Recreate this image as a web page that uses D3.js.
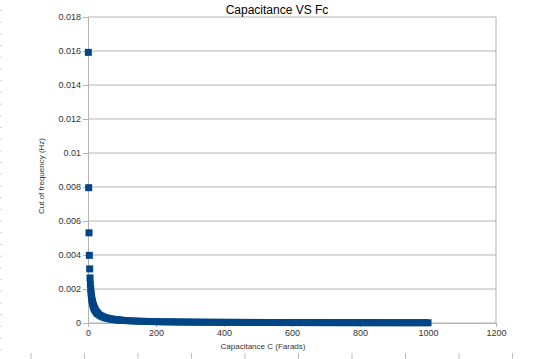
<!DOCTYPE html>
<html>
<head>
<meta charset="utf-8">
<script src="https://cdn.jsdelivr.net/npm/d3@7"></script>
<style>
  body { margin: 0; background: #fff; }
  text { font-family: "Liberation Sans", Arial, sans-serif; }
</style>
</head>
<body>
<div id="chart"></div>
<script>
// values
const capacitance = [
  1, 2, 3, 4, 5, 6, 7, 8, 9, 10, 11, 12, 13, 14, 15, 16, 17, 18, 19, 20,
  22, 24, 26, 28, 30, 35, 40, 45, 50, 55, 60, 65, 70, 75, 80, 85, 90, 95,
  100, 110, 120, 130, 140, 150, 160, 170, 180, 190,
  200, 210, 220, 230, 240, 250, 260, 270, 280, 290,
  300, 310, 320, 330, 340, 350, 360, 370, 380, 390,
  400, 410, 420, 430, 440, 450, 460, 470, 480, 490,
  500, 510, 520, 530, 540, 550, 560, 570, 580, 590,
  600, 610, 620, 630, 640, 650, 660, 670, 680, 690,
  700, 710, 720, 730, 740, 750, 760, 770, 780, 790,
  800, 810, 820, 830, 840, 850, 860, 870, 880, 890,
  900, 910, 920, 930, 940, 950, 960, 970, 980, 990, 1000
];
const cutoff = [
  0.01592, 0.00796, 0.005305, 0.003979, 0.003183, 0.002653, 0.002274, 0.001989, 0.001768, 0.001592,
  0.001447, 0.001326, 0.001224, 0.001137, 0.001061, 0.000995, 0.000936, 0.000884, 0.000838, 0.000796,
  0.000723, 0.000663, 0.000612, 0.000568, 0.000531, 0.000455, 0.000398, 0.000354, 0.000318, 0.000289,
  0.000265, 0.000245, 0.000227, 0.000212, 0.000199, 0.000187, 0.000177, 0.000168,
  0.000159, 0.0001447, 0.000133, 0.0001224, 0.000114, 0.0001061, 0.0000995, 0.0000936, 0.0000884, 0.0000838,
  0.0000796, 0.0000758, 0.0000723, 0.0000692, 0.0000663, 0.0000637, 0.0000612, 0.0000589, 0.0000568, 0.0000549,
  0.0000531, 0.0000513, 0.0000497, 0.0000482, 0.0000468, 0.0000455, 0.0000442, 0.000043, 0.0000419, 0.0000408,
  0.0000398, 0.0000388, 0.0000379, 0.000037, 0.0000362, 0.0000354, 0.0000346, 0.0000339, 0.0000332, 0.0000325,
  0.0000318, 0.0000312, 0.0000306, 0.00003, 0.0000295, 0.0000289, 0.0000284, 0.0000279, 0.0000274, 0.000027,
  0.0000265, 0.0000261, 0.0000257, 0.0000253, 0.0000249, 0.0000245, 0.0000241, 0.0000238, 0.0000234, 0.0000231,
  0.0000227, 0.0000224, 0.0000221, 0.0000218, 0.0000215, 0.0000212, 0.0000209, 0.0000207, 0.0000204, 0.0000201,
  0.0000199, 0.0000196, 0.0000194, 0.0000192, 0.0000189, 0.0000187, 0.0000185, 0.0000183, 0.0000181, 0.0000179,
  0.0000177, 0.0000175, 0.0000173, 0.0000171, 0.0000169, 0.0000168, 0.0000166, 0.0000164, 0.0000162, 0.0000161, 0.0000159
];
const xTicks = [0, 200, 400, 600, 800, 1000, 1200];
const yTicks = [0, 0.002, 0.004, 0.006, 0.008, 0.01, 0.012, 0.014, 0.016, 0.018];

const width = 560, height = 359;
const margin = { top: 17, right: 64, bottom: 36, left: 88 };

const svg = d3.select('#chart')
              .append('svg')
              .attr('width', width)
              .attr('height', height);

const x = d3.scaleLinear()
            .domain([0, 1200])
            .range([margin.left, width - margin.right]);

const y = d3.scaleLinear()
            .domain([0, 0.018])
            .range([height - margin.bottom, margin.top]);

// faint ruler marks around the screenshot edge
const leftDots = d3.range(10, height, 11.7);
svg.append('g').selectAll('rect')
   .data(leftDots)
   .enter()
   .append('rect')
   .attr('x', 0).attr('y', d => d)
   .attr('width', 1.5).attr('height', 1)
   .attr('fill', '#c8c8c8');

const bottomMarks = d3.range(31, width, 53.5);
svg.append('g').selectAll('line')
   .data(bottomMarks)
   .enter()
   .append('line')
   .attr('x1', d => d).attr('x2', d => d)
   .attr('y1', 353).attr('y2', 359)
   .attr('stroke', '#bdbdbd');

// horizontal grid
svg.append('g')
   .selectAll('line')
   .data(yTicks)
   .enter()
   .append('line')
   .attr('x1', x(0)).attr('x2', x(1200))
   .attr('y1', d => y(d)).attr('y2', d => y(d))
   .attr('stroke', '#b3b3b3')
   .attr('stroke-width', 1);

// right border
svg.append('line')
   .attr('x1', x(1200)).attr('x2', x(1200))
   .attr('y1', y(0.018)).attr('y2', y(0))
   .attr('stroke', '#b3b3b3');

const yAxis = svg.append('g')
                 .attr('transform', `translate(${x(0)},0)`)
                 .call(d3.axisLeft(y).tickValues(yTicks).tickSize(5).tickPadding(2)
                         .tickFormat(d => d3.format('~g')(+d.toFixed(3))));

const xAxis = svg.append('g')
                 .attr('transform', `translate(0,${y(0)})`)
                 .call(d3.axisBottom(x).tickValues(xTicks).tickSize(4).tickPadding(3)
                         .tickFormat(d3.format('d')));

[xAxis, yAxis].forEach(a => {
  a.select('.domain').attr('stroke', '#b3b3b3');
  a.selectAll('.tick line').attr('stroke', '#b3b3b3');
  a.selectAll('.tick text')
   .attr('fill', '#333')
   .style('font-family', '"Liberation Sans", Arial, sans-serif')
   .style('font-size', '9px');
});

// markers
const points = capacitance.map((c, i) => ({ c, f: cutoff[i] }));
const size = 7;
svg.append('g')
   .selectAll('rect')
   .data(points)
   .enter()
   .append('rect')
   .attr('x', d => x(d.c) - size / 2)
   .attr('y', d => y(d.f) - size / 2)
   .attr('width', size)
   .attr('height', size)
   .attr('fill', '#004586');

svg.append('text')
   .attr('x', 277)
   .attr('y', 14)
   .attr('text-anchor', 'middle')
   .style('font-size', '12px')
   .attr('fill', '#000')
   .text('Capacitance VS Fc');

svg.append('text')
   .attr('x', 263)
   .attr('y', 349)
   .attr('text-anchor', 'middle')
   .style('font-size', '8px')
   .attr('fill', '#333')
   .text('Capacitance C (Farads)');

svg.append('text')
   .attr('transform', 'translate(44,176) rotate(-90)')
   .attr('text-anchor', 'middle')
   .style('font-size', '8px')
   .attr('fill', '#333')
   .text('Cut of frequency (Hz)');
</script>
</body>
</html>
